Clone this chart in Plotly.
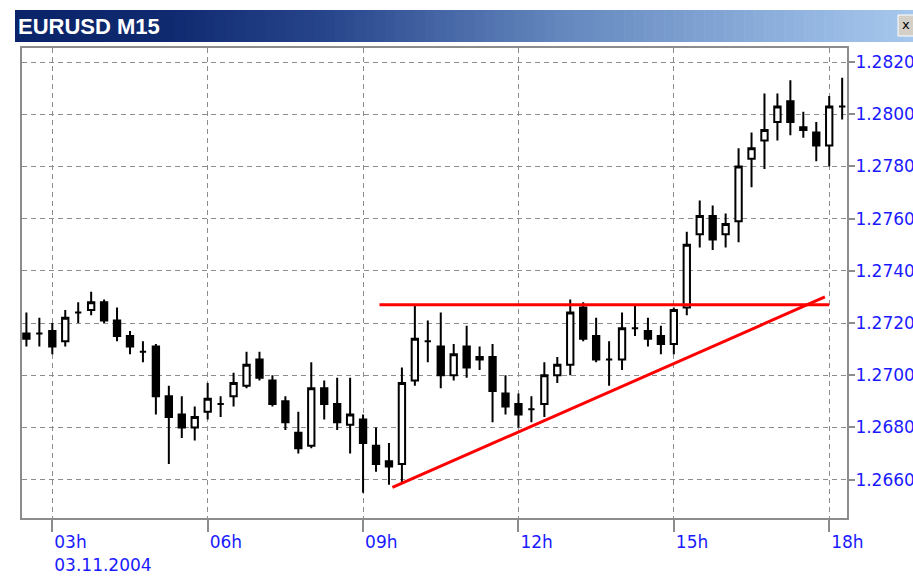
import plotly.graph_objects as go
import pandas as pd

# ---- data (EURUSD M15, 03.11.2004) ----
times = pd.date_range("2004-11-03 02:30", periods=64, freq="15min")

opens = [1.2716, 1.2716, 1.2717, 1.2713, 1.2724, 1.2725, 1.2728, 1.2721, 1.2715, 1.2709,
         1.2711, 1.2692, 1.2685, 1.2680, 1.2686, 1.2689, 1.2692, 1.2696, 1.2706, 1.2698,
         1.2690, 1.2678, 1.2673, 1.2695, 1.2689, 1.2681, 1.2683, 1.2673, 1.2667, 1.2666,
         1.2698, 1.2713, 1.2711, 1.2700, 1.2711, 1.2706, 1.2707, 1.2693, 1.2689, 1.2687,
         1.2689, 1.2700, 1.2704, 1.2726, 1.2715, 1.2706, 1.2706, 1.2718, 1.2717, 1.2715,
         1.2712, 1.2726, 1.2754, 1.2761, 1.2754, 1.2759, 1.2783, 1.2790, 1.2797, 1.2805,
         1.2795, 1.2793, 1.2788, 1.2803]
highs = [1.2724, 1.2722, 1.2720, 1.2725, 1.2728, 1.2732, 1.2729, 1.2726, 1.2717, 1.2713,
         1.2712, 1.2696, 1.2692, 1.2688, 1.2697, 1.2692, 1.2701, 1.2709, 1.2709, 1.2700,
         1.2692, 1.2686, 1.2705, 1.2698, 1.2699, 1.2699, 1.2685, 1.2680, 1.2674, 1.2703,
         1.2727, 1.2721, 1.2724, 1.2712, 1.2719, 1.2711, 1.2712, 1.2700, 1.2693, 1.2692,
         1.2705, 1.2707, 1.2729, 1.2728, 1.2722, 1.2713, 1.2724, 1.2727, 1.2722, 1.2719,
         1.2726, 1.2755, 1.2767, 1.2765, 1.2762, 1.2787, 1.2793, 1.2808, 1.2808, 1.2813,
         1.2801, 1.2797, 1.2807, 1.2814]
lows = [1.2711, 1.2711, 1.2708, 1.2711, 1.2720, 1.2723, 1.2720, 1.2713, 1.2708, 1.2705,
        1.2685, 1.2666, 1.2676, 1.2675, 1.2683, 1.2684, 1.2688, 1.2695, 1.2698, 1.2688,
        1.2679, 1.2670, 1.2672, 1.2683, 1.2679, 1.2670, 1.2655, 1.2663, 1.2658, 1.2659,
        1.2696, 1.2705, 1.2695, 1.2698, 1.2699, 1.2702, 1.2682, 1.2685, 1.2680, 1.2682,
        1.2684, 1.2697, 1.2700, 1.2713, 1.2705, 1.2696, 1.2702, 1.2715, 1.2711, 1.2708,
        1.2708, 1.2723, 1.2749, 1.2748, 1.2749, 1.2751, 1.2772, 1.2779, 1.2790, 1.2792,
        1.2791, 1.2782, 1.2780, 1.2798]
closes = [1.2714, 1.2716, 1.2711, 1.2722, 1.2724, 1.2728, 1.2721, 1.2715, 1.2711, 1.2709,
          1.2692, 1.2684, 1.2680, 1.2684, 1.2691, 1.2689, 1.2697, 1.2704, 1.2699, 1.2689,
          1.2682, 1.2672, 1.2695, 1.2689, 1.2682, 1.2685, 1.2674, 1.2666, 1.2665, 1.2697,
          1.2714, 1.2713, 1.2700, 1.2708, 1.2703, 1.2707, 1.2694, 1.2688, 1.2685, 1.2687,
          1.2700, 1.2704, 1.2724, 1.2714, 1.2706, 1.2706, 1.2718, 1.2718, 1.2714, 1.2712,
          1.2725, 1.2750, 1.2761, 1.2752, 1.2758, 1.2780, 1.2787, 1.2794, 1.2803, 1.2797,
          1.2794, 1.2788, 1.2803, 1.2803]

tick_times = ["2004-11-03 03:00", "2004-11-03 06:00", "2004-11-03 09:00",
              "2004-11-03 12:00", "2004-11-03 15:00", "2004-11-03 18:00"]
tick_labels = ["03h<br>03.11.2004", "06h", "09h", "12h", "15h", "18h"]
price_ticks = [1.2660, 1.2680, 1.2700, 1.2720, 1.2740, 1.2760, 1.2780, 1.2800, 1.2820]
price_labels = ["%.4f" % v for v in price_ticks]

resist_x = ["2004-11-03 09:19", "2004-11-03 18:00"]
resist_y = [1.2727, 1.2727]
trend_x = ["2004-11-03 09:34", "2004-11-03 17:55"]
trend_y = [1.2657, 1.2730]

title_text = "EURUSD M15"

# ---- figure (page body margin removed, figure fills the window) ----
W, H = 913, 582
L, R, T, B = 22, W - 847, 48, H - 518
PW, PH = W - L - R, H - T - B

def px(xp):  # window pixel -> paper
    return (xp - L) / PW

def py(yp):
    return (H - B - yp) / PH

fig = go.Figure()
fig.add_trace(go.Candlestick(
    x=times, open=opens, high=highs, low=lows, close=closes,
    increasing=dict(fillcolor="white", line=dict(color="black", width=2)),
    decreasing=dict(fillcolor="black", line=dict(color="black", width=2)),
    whiskerwidth=0, showlegend=False, hoverinfo="skip",
))
fig.add_trace(go.Scatter(x=resist_x, y=resist_y, mode="lines",
                         line=dict(color="#ff0000", width=3), showlegend=False, hoverinfo="skip"))
fig.add_trace(go.Scatter(x=trend_x, y=trend_y, mode="lines",
                         line=dict(color="#ff0000", width=3), showlegend=False, hoverinfo="skip"))

blue = "#1a1aff"
gray = "#8c8c8c"
tfont = dict(family="DejaVu Sans", size=17, color=blue)

fig.update_xaxes(
    type="date", range=["2004-11-03 02:24:54", "2004-11-03 18:20:36"],
    tickvals=tick_times, ticktext=tick_labels, tickfont=tfont,
    ticklabelposition="outside right", ticklabelstandoff=8,
    ticks="outside", ticklen=12, tickwidth=2, tickcolor=gray,
    showgrid=True, gridcolor=gray, gridwidth=1, griddash="5px,4px",
    showline=True, linecolor=gray, linewidth=2, mirror=True,
    zeroline=False, rangeslider=dict(visible=False), fixedrange=True,
    automargin=False,
)
fig.update_yaxes(
    side="right", range=[1.26453, 1.28254],
    tickvals=price_ticks, ticktext=price_labels, tickfont=tfont,
    ticks="outside", ticklen=6, tickwidth=2, tickcolor=gray,
    ticklabelstandoff=-3,
    showgrid=True, gridcolor=gray, gridwidth=1, griddash="5px,4px",
    showline=True, linecolor=gray, linewidth=2, mirror=True,
    zeroline=False, fixedrange=True, automargin=False,
)

# title bar gradient (Windows-style caption)
stops = [(15, (10, 36, 106)), (170, (16, 42, 112)), (330, (40, 70, 140)),
         (560, (100, 135, 190)), (913, (166, 200, 238))]

def color_at(xp):
    for (x0, c0), (x1, c1) in zip(stops[:-1], stops[1:]):
        if x0 <= xp <= x1:
            t = (xp - x0) / (x1 - x0)
            return "rgb(%d,%d,%d)" % tuple(round(a + (b - a) * t) for a, b in zip(c0, c1))
    return "rgb(%d,%d,%d)" % stops[-1][1]

shapes = []
n = 90
x_start, x_end = 15, 914
step = (x_end - x_start) / n
for k in range(n):
    xa = x_start + k * step
    xb = xa + step + 0.6
    shapes.append(dict(type="rect", xref="paper", yref="paper",
                       x0=px(xa), x1=px(xb), y0=py(42), y1=py(10),
                       fillcolor=color_at(xa + step / 2), line=dict(width=0), layer="above"))
# close button
shapes.append(dict(type="rect", xref="paper", yref="paper",
                   x0=px(898), x1=px(916), y0=py(36), y1=py(15),
                   fillcolor="#d4d0c8", line=dict(color="#ffffff", width=1), layer="above"))

fig.update_layout(
    width=W, height=H, margin=dict(l=L, r=R, t=T, b=B, pad=0, autoexpand=False),
    paper_bgcolor="white", plot_bgcolor="white",
    boxgap=0.3,
    shapes=shapes,
    annotations=[
        dict(text="<b>" + title_text + "</b>", xref="paper", yref="paper",
             x=px(16), y=py(26), xanchor="left", yanchor="middle", showarrow=False,
             font=dict(family="Liberation Sans", size=22, color="white")),
        dict(text="x", xref="paper", yref="paper", x=px(906), y=py(25),
             xanchor="center", yanchor="middle", showarrow=False,
             font=dict(family="DejaVu Sans", size=13, color="black")),
    ],
)

fig.write_html("out.html",
               config={"displayModeBar": False, "staticPlot": True},
               post_script="document.body.style.margin='0px';document.body.style.overflow='hidden';")
